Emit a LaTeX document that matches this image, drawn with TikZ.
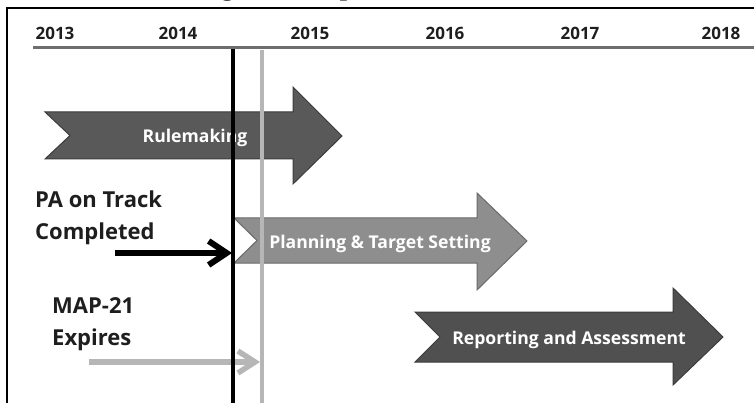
\documentclass[tikz,border=0pt]{standalone}
\usepackage{fontspec}
\setmainfont{Open Sans}
\newfontfamily\titleserif{Liberation Serif}
\usetikzlibrary{arrows.meta}
\definecolor{axisgray}{HTML}{6E6E6E}
\definecolor{darkarrow}{HTML}{595959}
\definecolor{darkedge}{HTML}{3C3C3C}
\definecolor{midarrow}{HTML}{8E8E8E}
\definecolor{midedge}{HTML}{6A6A6A}
\definecolor{reparrow}{HTML}{505050}
\definecolor{lightline}{HTML}{B6B6B6}
\definecolor{inktext}{HTML}{1E1E1E}
\tikzset{
  yearlabel/.style={anchor=base, font=\bfseries\fontsize{17}{20}\selectfont, text=inktext, inner sep=0pt},
  phaselabel/.style={anchor=base, font=\bfseries\fontsize{17.6}{20}\selectfont, text=white, inner sep=0pt},
  eventlabel/.style={anchor=base west, font=\bfseries\fontsize{22}{26}\selectfont, text=inktext, inner sep=0pt},
  phasearrow/.style={line width=1pt, line join=miter},
}
\begin{document}
\begin{tikzpicture}[x=1pt,y=-1pt]
\useasboundingbox (0,0) rectangle (754,403);
% title (cut off at top)
\node[anchor=base, inner sep=0pt, font=\titleserif\bfseries\fontsize{26}{30}\selectfont] (title) at (395,-4) {Figure 1: Implementation Schedule};
% frame
\draw[line width=1.5pt] (7,403) -- (7,8) -- (754,8);
% axis
\coordinate (axL) at (33,48);
\coordinate (axR) at (754,48);
\draw[line width=3pt, axisgray] (axL) -- (axR);
% years
\node[yearlabel] (y2013) at (55,40) {2013};
\node[yearlabel] (y2014) at (178,40) {2014};
\node[yearlabel] (y2015) at (310,40) {2015};
\node[yearlabel] (y2016) at (445,40) {2016};
\node[yearlabel] (y2017) at (580,40) {2017};
\node[yearlabel] (y2018) at (721,40) {2018};
% phase arrows
\draw[phasearrow, fill=darkarrow, draw=darkedge]
  (45,112) -- (293,112) -- (293,87) -- (342,136) -- (293,184) -- (293,159) -- (45,159) -- (70,135.5) -- cycle;
\draw[phasearrow, fill=midarrow, draw=midedge]
  (234,218) -- (477,218) -- (477,193) -- (527,241) -- (477,290) -- (477,263) -- (234,263) -- (257,240.5) -- cycle;
\draw[phasearrow, fill=reparrow, draw=darkedge]
  (415,312) -- (673,312) -- (673,288) -- (723,337) -- (673,385) -- (673,362) -- (415,362) -- (440,337) -- cycle;
\node[phaselabel] (rule) at (195,143) {Rulemaking};
\node[phaselabel] (plan) at (380,248) {Planning \& Target Setting};
\node[phaselabel] (rep) at (569,344) {Reporting and Assessment};
% event connectors
\coordinate (paStart) at (115,253);
\coordinate (paEnd) at (232,253);
\coordinate (mapStart) at (89,362);
\coordinate (mapEnd) at (260,362);
\draw[line width=5.5pt, lightline, -{Straight Barb[length=17pt, width=22pt]}] (mapStart) -- (mapEnd);
% milestone lines
\coordinate (blackTop) at (233,49);
\coordinate (blackBot) at (233,403);
\coordinate (grayTop) at (262,50);
\coordinate (grayBot) at (262,403);
\draw[line width=3.5pt, lightline] (grayTop) -- (grayBot);
\draw[line width=4.5pt, black] (blackTop) -- (blackBot);
\draw[line width=6pt, black, -{Straight Barb[length=18pt, width=24pt]}] (paStart) -- (paEnd);
% event labels
\node[eventlabel] (pa1) at (35,208) {PA on Track};
\node[eventlabel] (pa2) at (35,240) {Completed};
\node[eventlabel] (map1) at (52,313) {MAP-21};
\node[eventlabel] (map2) at (52,345) {Expires};
\end{tikzpicture}
\end{document}
